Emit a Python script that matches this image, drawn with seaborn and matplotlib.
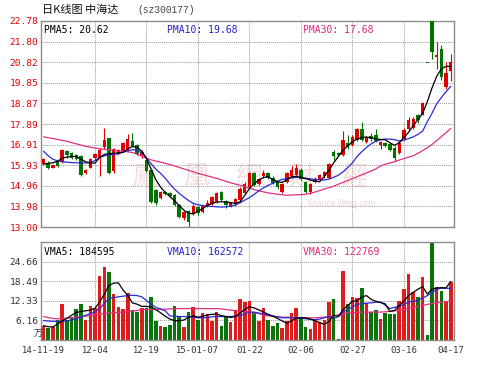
import numpy as np
import pandas as pd
import matplotlib
matplotlib.use("Agg")
import matplotlib.pyplot as plt
import seaborn as sns

# ---------------- data ----------------
opens = [16.00, 16.05, 15.82, 16.10, 16.10, 16.60, 16.50, 16.40, 16.35, 15.55,
         15.82, 16.28, 16.30, 16.78, 17.22, 15.65, 16.45, 16.60, 16.68, 17.10,
         16.90, 16.40, 16.20, 15.70, 14.75, 14.40, 14.68, 14.62, 14.50, 14.03,
         13.42, 13.78, 13.62, 13.95, 13.70, 14.00, 14.10, 14.20, 14.65, 14.25,
         14.00, 14.10, 14.28, 14.62, 14.92, 15.55, 15.05, 15.40, 15.55, 15.35,
         15.12, 14.68, 15.15, 15.40, 15.45, 15.72, 15.15, 14.68, 15.15, 15.25,
         15.40, 15.35, 16.58, 16.52, 16.43, 17.00, 16.90, 17.15, 17.66, 17.05,
         17.30, 17.35, 16.90, 16.98, 16.92, 16.75, 16.50, 17.20, 17.66, 17.72,
         18.30, 18.34, 20.79, 22.78, 21.05, 21.45, 19.65, 20.40]
highs = [16.30, 16.12, 16.00, 16.15, 16.70, 16.65, 16.58, 16.45, 16.40, 15.75,
         16.28, 16.50, 16.75, 17.68, 17.25, 16.75, 16.72, 17.02, 17.40, 17.45,
         16.95, 16.65, 16.25, 15.72, 14.80, 14.72, 14.72, 14.68, 14.55, 14.08,
         13.75, 13.82, 14.08, 14.00, 14.05, 14.30, 14.48, 14.65, 14.72, 14.30,
         14.20, 14.40, 14.88, 15.12, 15.60, 15.60, 15.35, 15.72, 15.60, 15.40,
         15.15, 15.10, 15.60, 15.90, 16.00, 15.78, 15.20, 15.10, 15.38, 15.50,
         15.68, 16.05, 16.65, 16.56, 17.55, 17.35, 17.35, 17.70, 18.00, 17.30,
         17.45, 17.65, 17.10, 17.02, 16.98, 16.85, 17.15, 17.68, 18.20, 18.20,
         18.35, 18.95, 20.79, 22.78, 21.80, 21.62, 20.85, 21.20]
lows = [15.95, 15.75, 15.78, 15.85, 16.05, 16.30, 16.22, 16.18, 15.42, 15.50,
        15.78, 16.20, 15.44, 16.72, 15.52, 15.58, 16.40, 16.55, 16.62, 16.80,
        16.40, 16.30, 15.60, 14.15, 14.05, 14.35, 14.50, 14.42, 13.98, 13.42,
        13.35, 13.00, 13.55, 13.58, 13.66, 13.95, 14.05, 14.15, 14.22, 13.90,
        13.95, 13.98, 14.22, 14.55, 14.85, 14.95, 15.00, 15.35, 15.30, 15.05,
        14.82, 14.62, 15.10, 15.35, 15.40, 15.25, 14.62, 14.58, 15.10, 15.20,
        15.35, 15.30, 16.20, 16.35, 16.38, 16.72, 16.85, 17.10, 17.10, 17.00,
        17.07, 17.05, 16.70, 16.80, 16.60, 16.15, 16.45, 17.15, 17.60, 17.65,
        17.95, 18.30, 20.79, 20.98, 20.50, 20.00, 19.55, 19.95]
closes = [16.25, 15.80, 15.95, 15.88, 16.65, 16.40, 16.28, 16.25, 15.47, 15.70,
          16.25, 16.45, 16.68, 17.14, 15.58, 16.72, 16.65, 16.98, 17.18, 16.85,
          16.45, 16.55, 15.65, 14.20, 14.12, 14.68, 14.55, 14.48, 14.05, 13.48,
          13.70, 13.24, 14.02, 13.65, 14.00, 14.12, 14.42, 14.60, 14.28, 14.03,
          14.15, 14.35, 14.82, 15.05, 15.55, 15.00, 15.28, 15.55, 15.35, 15.10,
          14.90, 15.03, 15.55, 15.72, 15.80, 15.30, 14.68, 15.05, 15.30, 15.45,
          15.62, 16.00, 16.38, 16.42, 17.14, 16.78, 17.28, 17.65, 17.15, 17.25,
          17.20, 17.10, 17.05, 16.85, 16.68, 16.28, 16.98, 17.62, 18.10, 18.15,
          18.10, 18.90, 20.79, 21.30, 21.15, 20.10, 20.30, 20.82]
volumes = [4.5, 3.8, 4.0, 6.4, 11.3, 6.4, 7.4, 9.7, 11.3, 6.4,
           10.6, 10.1, 20.2, 23.0, 21.5, 14.4, 10.4, 9.8, 14.8, 9.3,
           8.8, 10.2, 10.2, 13.6, 5.9, 4.5, 4.0, 4.8, 10.6, 7.2,
           4.2, 8.8, 10.4, 6.3, 8.5, 8.3, 6.1, 8.9, 4.5, 7.6,
           5.6, 9.3, 12.8, 12.0, 12.2, 8.5, 5.9, 10.2, 6.3, 4.3,
           5.5, 3.7, 6.1, 8.6, 10.1, 7.0, 4.2, 3.4, 6.1, 5.6,
           6.4, 12.0, 12.8, 0.3, 21.8, 11.5, 13.6, 13.1, 16.3, 11.7,
           8.8, 9.3, 6.7, 8.5, 8.3, 8.3, 12.3, 16.1, 20.9, 15.2,
           13.4, 20.0, 1.7, 30.82, 16.8, 15.4, 12.0, 18.2]  # 10k shares (万)

pma5 = [15.99, 16.02, 16.05, 16.12, 16.27, 16.32, 16.35, 16.35, 16.22, 16.10,
        16.05, 16.03, 16.30, 16.45, 16.48, 16.50, 16.52, 16.55, 16.70, 16.83,
        16.78, 16.60, 16.25, 15.75, 15.25, 14.90, 14.65, 14.45, 14.25, 14.02,
        13.80, 13.66, 13.63, 13.75, 13.88, 14.02, 14.12, 14.19, 14.20, 14.19,
        14.16, 14.12, 14.20, 14.50, 14.83, 15.05, 15.23, 15.35, 15.40, 15.25,
        15.15, 15.12, 15.25, 15.39, 15.40, 15.36, 15.30, 15.23, 15.18, 15.15,
        15.40, 15.70, 16.05, 16.35, 16.65, 16.85, 17.05, 17.18, 17.25, 17.27,
        17.24, 17.18, 17.16, 17.14, 17.00, 16.88, 17.00, 17.25, 17.50, 17.82,
        18.10, 18.40, 18.95, 19.60, 20.15, 20.50, 20.63, 20.62]
pma10 = [16.60, 16.38, 16.22, 16.14, 16.10, 16.08, 16.06, 16.05, 16.05, 16.04,
         16.06, 16.15, 16.30, 16.38, 16.42, 16.45, 16.48, 16.55, 16.62, 16.67,
         16.65, 16.52, 16.28, 16.00, 15.75, 15.55, 15.32, 15.05, 14.80, 14.60,
         14.42, 14.26, 14.12, 14.06, 14.02, 14.00, 13.98, 13.96, 13.95, 13.96,
         13.99, 14.05, 14.15, 14.28, 14.40, 14.55, 14.72, 14.86, 14.98, 15.08,
         15.18, 15.26, 15.30, 15.33, 15.36, 15.35, 15.32, 15.29, 15.26, 15.24,
         15.23, 15.28, 15.36, 15.46, 15.62, 15.82, 16.05, 16.35, 16.58, 16.78,
         16.95, 17.07, 17.14, 17.18, 17.17, 17.15, 17.08, 17.12, 17.20, 17.28,
         17.40, 17.55, 18.00, 18.40, 18.85, 19.15, 19.42, 19.68]
pma30 = [17.28, 17.24, 17.20, 17.16, 17.11, 17.07, 17.01, 16.95, 16.89, 16.83,
         16.79, 16.75, 16.71, 16.69, 16.67, 16.65, 16.62, 16.60, 16.57, 16.54,
         16.45, 16.36, 16.27, 16.19, 16.13, 16.08, 16.03, 15.97, 15.90, 15.83,
         15.76, 15.69, 15.62, 15.55, 15.49, 15.43, 15.37, 15.31, 15.24, 15.17,
         15.10, 15.04, 14.98, 14.92, 14.84, 14.78, 14.72, 14.67, 14.62, 14.59,
         14.56, 14.53, 14.51, 14.52, 14.53, 14.54, 14.56, 14.60, 14.66, 14.73,
         14.80, 14.87, 14.94, 15.03, 15.12, 15.21, 15.30, 15.39, 15.48, 15.57,
         15.66, 15.76, 15.90, 15.98, 16.04, 16.10, 16.18, 16.25, 16.32, 16.38,
         16.50, 16.63, 16.76, 16.92, 17.10, 17.29, 17.48, 17.68]
vma5 = [4.5, 4.2, 4.1, 5.0, 6.0, 6.8, 7.8, 8.7, 9.0, 9.2,
        9.4, 10.0, 12.0, 14.5, 17.2, 17.9, 18.0, 15.8, 14.0, 11.7,
        11.3, 10.6, 10.6, 10.4, 9.6, 8.6, 7.5, 6.6, 6.1, 6.1,
        6.3, 7.2, 7.6, 7.2, 7.5, 7.9, 8.1, 8.2, 7.7, 7.4,
        7.1, 7.4, 8.5, 9.6, 10.5, 10.1, 9.5, 8.8, 8.1, 7.5,
        6.8, 6.0, 5.3, 6.0, 6.9, 7.0, 7.0, 6.6, 6.1, 5.5,
        4.9, 5.9, 7.8, 7.5, 9.5, 10.9, 12.2, 12.3, 13.5, 14.0,
        12.8, 12.2, 11.8, 11.4, 9.0, 9.3, 10.9, 12.3, 14.0, 15.0,
        16.0, 16.8, 14.5, 16.0, 16.4, 16.5, 16.4, 18.46]
vma10 = [6.1, 6.0, 5.9, 5.8, 5.9, 6.0, 6.3, 6.8, 7.2, 7.8,
         8.3, 8.9, 9.9, 11.5, 13.1, 13.4, 13.6, 13.8, 14.0, 14.1,
         14.0, 13.6, 12.4, 11.3, 10.3, 9.8, 9.2, 7.6, 7.5, 7.4,
         7.4, 7.3, 7.2, 7.0, 7.0, 7.1, 7.3, 7.4, 7.4, 7.4,
         7.4, 7.5, 7.7, 8.2, 8.8, 8.8, 8.5, 8.2, 7.9, 7.6,
         7.3, 7.0, 7.0, 7.0, 7.0, 6.9, 6.7, 6.5, 6.4, 6.6,
         7.0, 7.4, 6.9, 7.3, 8.8, 9.6, 10.4, 11.3, 11.4, 11.6,
         11.7, 11.9, 12.0, 11.0, 9.9, 10.3, 10.6, 11.2, 12.0, 12.2,
         12.5, 13.2, 14.0, 15.0, 16.0, 16.3, 16.3, 16.26]
vma30 = [7.4, 7.1, 6.8, 6.7, 6.8, 6.9, 7.0, 7.1, 7.3, 7.5,
         7.7, 7.9, 8.1, 8.3, 8.5, 8.6, 8.7, 8.8, 8.9, 9.1,
         9.3, 9.6, 9.6, 9.6, 9.6, 9.7, 9.7, 9.8, 9.8, 9.9,
         9.9, 9.9, 9.9, 9.9, 9.9, 9.9, 9.9, 9.9, 9.8, 9.6,
         9.4, 9.3, 9.2, 9.1, 8.9, 8.6, 8.3, 7.9, 7.6, 7.5,
         7.3, 7.2, 7.2, 7.1, 7.0, 7.0, 7.0, 7.0, 7.0, 7.1,
         7.2, 7.4, 7.6, 7.9, 8.2, 8.5, 8.6, 8.7, 8.8, 8.8,
         8.8, 8.8, 8.8, 8.9, 9.0, 9.2, 9.3, 9.6, 9.9, 10.3,
         10.6, 10.9, 11.2, 11.5, 11.7, 11.9, 12.1, 12.28]

date_tick_index = [0, 11, 22, 33, 44, 55, 66, 77, 87]
date_tick_labels = ["14-11-19", "12-04", "12-19", "15-01-07", "01-22",
                    "02-06", "02-27", "03-16", "04-17"]
price_ticks = [13.00, 13.98, 14.96, 15.93, 16.91, 17.89, 18.87, 19.85, 20.82, 21.80, 22.78]
vol_ticks = [6.16, 12.33, 18.49, 24.66]
vol_top = 30.82
title_text = "日K线图 中海达"
code_text = "(sz300177)"
pma_labels = ["PMA5: 20.62", "PMA10: 19.68", "PMA30: 17.68"]
vma_labels = ["VMA5: 184595", "VMA10: 162572", "VMA30: 122769"]
watermark_chars = ["鳳", "凰", "網", "財", "經"]

# ---------------- styling ----------------
sns.set_style("white")
plt.rcParams['font.family'] = ['DejaVu Sans Mono', 'Noto Sans CJK SC']

RED = '#e00000'
GREEN = '#007400'
VRED = '#e01b1b'
VGREEN = '#0b730b'
C5, C10, C30 = '#000000', '#2a2ad8', '#e0307f'
GRID = '#9a9a9a'

df = pd.DataFrame(dict(o=opens, h=highs, l=lows, c=closes, v=volumes,
                       p5=pma5, p10=pma10, p30=pma30,
                       v5=vma5, v10=vma10, v30=vma30))
df['i'] = np.arange(len(df))
up = (df['c'] > df['o']).to_numpy()
ccol = np.where(up, RED, GREEN)
vcol = np.where(up, VRED, VGREEN)

fig = plt.figure(figsize=(5.0, 3.68), dpi=100)
fig.patch.set_facecolor('white')
axp = fig.add_axes([0.082, 0.383, 0.826, 0.560])
axv = fig.add_axes([0.082, 0.076, 0.826, 0.266])

xlim = (-0.53, len(df) - 0.3)

for ax in (axp, axv):
    ax.set_xlim(*xlim)
    for s in ax.spines.values():
        s.set_color('#8c8c8c')
        s.set_linewidth(1.0)
    ax.set_xticks(date_tick_index[1:-1])
    ax.grid(True, axis='both', color=GRID, linestyle=(0, (1, 1)), linewidth=0.7)
    ax.set_axisbelow(True)
    ax.tick_params(length=0)

# watermark
for k, ch in enumerate(watermark_chars):
    axp.text(0.25 + k * 0.127, 0.24, ch, transform=axp.transAxes,
             family='Noto Sans CJK TC', fontsize=19, color='#f4dede',
             ha='center', va='center', zorder=0.5)
axp.text(0.73, 0.115, "finance.ifeng.com", transform=axp.transAxes,
         family='DejaVu Sans', fontsize=5.5, color='#f2d2d2',
         ha='center', va='center', zorder=0.5)

# candles
axp.vlines(df['i'], df['l'], df['h'], colors=ccol, linewidth=0.8, zorder=2)
body_bottom = np.minimum(df['o'], df['c'])
body_height = np.maximum((df['c'] - df['o']).abs(), 0.05)
axp.bar(df['i'], body_height, bottom=body_bottom, width=0.74,
        color=ccol, linewidth=0, zorder=3)

# price moving averages
sns.lineplot(data=df, x='i', y='p30', ax=axp, color=C30, linewidth=0.9, zorder=4)
sns.lineplot(data=df, x='i', y='p10', ax=axp, color=C10, linewidth=0.9, zorder=4)
sns.lineplot(data=df, x='i', y='p5', ax=axp, color=C5, linewidth=0.9, zorder=4)

axp.set_ylim(price_ticks[0], price_ticks[-1])
axp.set_yticks(price_ticks)
axp.set_yticklabels([f"{t:.2f}" for t in price_ticks])
axp.tick_params(axis='y', colors=RED, labelsize=6.8, pad=2)
axp.tick_params(axis='x', labelbottom=False)
axp.set_xlabel('')
axp.set_ylabel('')

# volume
axv.bar(df['i'], df['v'], width=0.76, color=vcol, linewidth=0, zorder=2)
sns.lineplot(data=df, x='i', y='v30', ax=axv, color=C30, linewidth=0.9, zorder=4)
sns.lineplot(data=df, x='i', y='v10', ax=axv, color=C10, linewidth=0.9, zorder=4)
sns.lineplot(data=df, x='i', y='v5', ax=axv, color=C5, linewidth=0.9, zorder=4)
axv.set_ylim(0, vol_top)
axv.set_yticks(vol_ticks)
axv.set_yticklabels([f"{t:.2f}" for t in vol_ticks])
axv.tick_params(axis='y', colors='#333333', labelsize=6.8, pad=2)
axv.set_xticks(date_tick_index)
axv.set_xticklabels(date_tick_labels)
axv.tick_params(axis='x', colors='#333333', labelsize=6.4, pad=4)
axv.xaxis.grid(True)
# only interior vertical grid lines
for gl, pos in zip(axv.xaxis.get_gridlines(), date_tick_index):
    if pos in (date_tick_index[0], date_tick_index[-1]):
        gl.set_visible(False)
axv.set_xlabel('')
axv.set_ylabel('')
axv.text(0.004, 1.9, "万", transform=axv.get_yaxis_transform(),
         family='Noto Sans CJK SC', fontsize=6.5, color='#333333',
         ha='right', va='center')

# legends inside panels
label_x = [0.008, 0.305, 0.635]
for lab, col, x in zip(pma_labels, [C5, '#2020c8', '#dd2a7a'], label_x):
    axp.text(x, 0.955, lab, transform=axp.transAxes, fontsize=7.0,
             color=col, ha='left', va='center', zorder=6)
for lab, col, x in zip(vma_labels, [C5, '#2020c8', '#dd2a7a'], label_x):
    axv.text(x, 0.9, lab, transform=axv.transAxes, fontsize=7.0,
             color=col, ha='left', va='center', zorder=6)

# title
fig.text(42 / 500, 1 - 10 / 368, title_text, family=['Noto Sans CJK SC'],
         fontsize=8, color='#111111', ha='left', va='center')
fig.text(137 / 500, 1 - 10 / 368, code_text, family=['Liberation Mono'],
         fontsize=6.9, color='#444444', ha='left', va='center')

fig.savefig("out.png", dpi=100, facecolor='white')
